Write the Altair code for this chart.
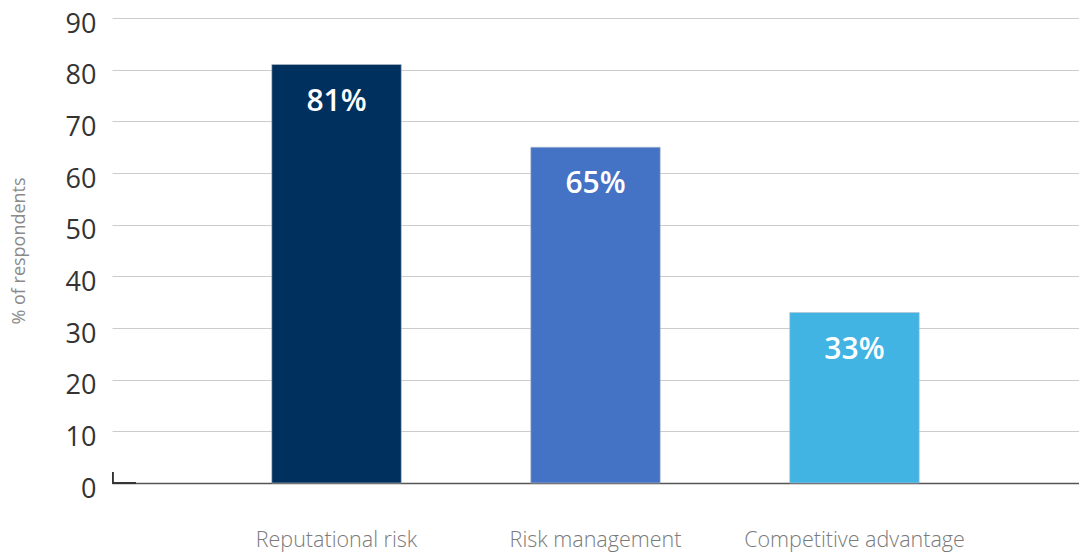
import altair as alt
import pandas as pd

categories = ["Reputational risk", "Risk management", "Competitive advantage"]
values = [81, 65, 33]
labels = ["81%", "65%", "33%"]
colors = ["#00305E", "#4472C4", "#41B4E4"]

df = pd.DataFrame({"cat": categories, "val": values, "lab": labels, "col": colors})

W, H = 967, 465

x = alt.X("cat:N", sort=categories,
          scale=alt.Scale(paddingInner=0.5, paddingOuter=0.617),
          axis=alt.Axis(title=None, labelAngle=0, labelFont="Open Sans", labelFontSize=21.5,
                        labelColor="#7a7a7a", labelPadding=46, ticks=False, labelLimit=400,
                        domainColor="#555555", domainWidth=1.5, labelFontWeight=300))
y = alt.Y("val:Q", scale=alt.Scale(domain=[0, 90], nice=False),
          axis=alt.Axis(values=list(range(0, 91, 10)), title="% of respondents",
                        titleFont="Open Sans", titleFontSize=18, titleColor="#8a8a8a",
                        titleFontWeight="normal", titlePadding=37,
                        labelFont="Open Sans", labelFontSize=27, labelColor="#333333",
                        labelPadding=16, labelOffset=6, ticks=False, domain=False,
                        gridColor="#cccccc", gridWidth=1.2))

bars = alt.Chart(df).mark_bar(stroke="#b8c0cc", strokeWidth=0.6).encode(
    x=x, y=y, color=alt.Color("col:N", scale=None))

text = alt.Chart(df).mark_text(color="white", font="Open Sans", fontSize=30,
                               fontWeight=600, baseline="middle", dy=37).encode(
    x=alt.X("cat:N", sort=categories), y="val:Q", text="lab:N")

corner_h = alt.Chart(df).mark_rule(color="#333333", strokeWidth=1.5).encode(
    x=alt.value(0), x2=alt.value(24), y=alt.value(H))
corner_v = alt.Chart(df).mark_rule(color="#333333", strokeWidth=1.5).encode(
    x=alt.value(0.75), y=alt.value(H - 11), y2=alt.value(H))

chart = alt.layer(bars, text, corner_h, corner_v).properties(
    width=W, height=H,
    background="white",
    autosize=alt.AutoSizeParams(type="none"),
    padding={"left": 112, "top": 18, "right": 0, "bottom": 69},
).configure_view(stroke=None)

chart.save("out.html", embed_options={"renderer": "svg", "actions": False})
